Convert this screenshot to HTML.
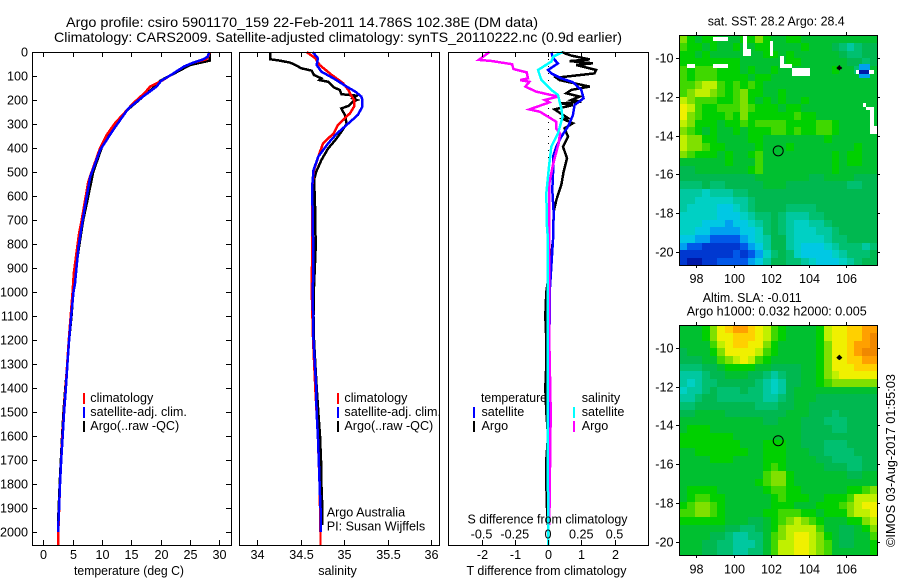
<!DOCTYPE html>
<html lang="en">
<head>
<meta charset="utf-8">
<title>Argo profile</title>
<style>
html,body{margin:0;padding:0;background:#fff;}
svg{display:block;}
text{font-family:"Liberation Sans",sans-serif;font-size:12.6px;fill:#000;}
</style>
</head>
<body>
<svg id="chart" width="900" height="580" viewBox="0 0 900 580" xmlns="http://www.w3.org/2000/svg">
<rect x="0" y="0" width="900" height="580" fill="#fff"/>
<text x="66" y="27" textLength="472" lengthAdjust="spacingAndGlyphs" style="font-size:14px">Argo profile: csiro 5901170_159 22-Feb-2011 14.786S 102.38E (DM data)</text>
<text x="54" y="42" textLength="568" lengthAdjust="spacingAndGlyphs" style="font-size:14px">Climatology: CARS2009. Satellite-adjusted climatology: synTS_20110222.nc (0.9d earlier)</text>

<g id="temp-panel"></g>
<g id="sal-panel"></g>
<g id="diff-panel"></g>
<g id="sst-map"></g>
<g id="sla-map"></g>

<text x="129" y="575" text-anchor="middle" textLength="110" lengthAdjust="spacingAndGlyphs">temperature (deg C)</text>
<text x="337.5" y="575" text-anchor="middle">salinity</text>
<text x="466.5" y="575" textLength="160" lengthAdjust="spacingAndGlyphs">T difference from climatology</text>
<text x="467.5" y="523.5" textLength="160" lengthAdjust="spacingAndGlyphs">S difference from climatology</text>

<g>
<text x="90.3" y="402">climatology</text>
<text x="90.3" y="416">satellite-adj. clim.</text>
<text x="90.3" y="430">Argo(..raw -QC)</text>
<rect x="83" y="393" width="2" height="11" fill="#ff0000"/>
<rect x="83" y="407" width="2" height="11" fill="#0000ff"/>
<rect x="83" y="421" width="2" height="11" fill="#000"/>
</g>
<g>
<text x="344.4" y="402">climatology</text>
<text x="344.4" y="416">satellite-adj. clim.</text>
<text x="344.4" y="430">Argo(..raw -QC)</text>
<rect x="337" y="393" width="2" height="11" fill="#ff0000"/>
<rect x="337" y="407" width="2" height="11" fill="#0000ff"/>
<rect x="337" y="421" width="2" height="11" fill="#000"/>
</g>
<text x="326.7" y="516.5">Argo Australia</text>
<text x="326.7" y="530.5">PI: Susan Wijffels</text>
<g>
<text x="481" y="402" textLength="66" lengthAdjust="spacingAndGlyphs">temperature</text>
<text x="481.5" y="416">satellite</text>
<text x="481.5" y="430">Argo</text>
<text x="581.7" y="402">salinity</text>
<text x="581.7" y="416">satellite</text>
<text x="581.7" y="430">Argo</text>
<rect x="473" y="407" width="2" height="11" fill="#0000ff"/>
<rect x="473" y="421" width="2" height="11" fill="#000"/>
<rect x="573" y="407" width="2" height="11" fill="#00ffff"/>
<rect x="573" y="421" width="2" height="11" fill="#ff00ff"/>
</g>

<text x="707.7" y="25.5" textLength="137" lengthAdjust="spacingAndGlyphs">sat. SST: 28.2 Argo: 28.4</text>
<text x="702.7" y="302" textLength="99" lengthAdjust="spacingAndGlyphs">Altim. SLA: -0.011</text>
<text x="686.7" y="315.5" textLength="180" lengthAdjust="spacingAndGlyphs">Argo h1000: 0.032 h2000: 0.005</text>
<text transform="translate(895 547) rotate(-90)" textLength="173" lengthAdjust="spacingAndGlyphs">©IMOS 03-Aug-2017 01:55:03</text>
</svg>
<script>
/* ---------- profile data ---------- */
const depthTicks = [0,100,200,300,400,500,600,700,800,900,1000,1100,1200,1300,1400,1500,1600,1700,1800,1900,2000];
const tempTicks = [0,5,10,15,20,25,30];
const salTicks = [34,34.5,35,35.5,36];
const tDiffTicks = [-2,-1,0,1,2];
const sDiffTicks = [-0.5,-0.25,0,0.25,0.5];
const sDiffTickLabels = ['-0.5','-0.25','0','0.25','0.5'];

const tempArgoDepth = [0,36,54,92,120,155,190,238,300,395,500,620,700,810,895,1006,1100,1200,1300,1400,1500,1600,1700,1800,1900,1970];
const tempArgo = [28.4,28.4,25,22.1,19.9,18.5,16.8,14.5,12.2,10,8.5,7.5,6.8,6.1,5.6,5.1,4.8,4.4,4.1,3.75,3.45,3.2,3.0,2.8,2.62,2.5];
const tempClimDepth = [0,15,30,45,60,92,120,144,170,214,297,346,401,540,700,755,922,1000,1200,1400,1600,1800,2000,2054];
const tempClim = [28.3,28.2,27.8,25.5,24,22,20.2,18.2,17.3,15.3,12.2,10.8,9.66,7.67,6.54,6.1,5.2,5.0,4.35,3.8,3.25,2.85,2.55,2.55];
const tempSatDepth = [0,20,30,45,60,92,120,144,186,235,325,408,520,686,811,964,1000,1100,1200,1300,1400,1500,1600,1700,1800,1900,2000];
const tempSat = [28.3,28,27.3,25.5,24,22,20.1,19.3,17,14.5,11.9,9.7,8,6.8,6,5.4,5.15,4.75,4.4,4.1,3.85,3.55,3.3,3.05,2.85,2.7,2.5];

const salArgoDepth = [0,30,36,44,54,68,78,96,110,117,124,147,158,176,182,193,200,207,225,235,249,262,300,332,367,401,450,499,533,617,811,978,1100,1200,1300,1400,1500,1600,1700,1800,1900,1970];
const salArgo = [34.15,34.15,34.26,34.38,34.44,34.51,34.63,34.655,34.74,34.72,34.82,34.88,34.95,34.97,35.146,35.1,35.15,35.1,35.05,34.97,34.99,35.01,35.03,34.97,34.9,34.82,34.74,34.68,34.655,34.665,34.675,34.655,34.65,34.655,34.67,34.686,34.705,34.724,34.736,34.74,34.75,34.75];
const salClimDepth = [0,26,54,96,130,158,179,200,228,255,276,304,339,380,436,492,561,800,1000,1200,1400,1600,1800,2000,2054];
const salClim = [34.57,34.67,34.72,34.86,34.99,35.05,35.08,35.115,35.115,35.07,35.01,34.93,34.88,34.76,34.705,34.655,34.635,34.635,34.63,34.645,34.67,34.7,34.72,34.73,34.73];
const salSatDepth = [0,26,54,82,110,144,165,186,200,228,262,304,339,380,436,492,561,894,1000,1200,1400,1500,1600,1700,1800,1900,2000];
const salSat = [34.64,34.7,34.686,34.74,34.88,35.03,35.13,35.2,35.21,35.21,35.16,35.03,34.92,34.82,34.705,34.65,34.635,34.65,34.64,34.65,34.68,34.685,34.7,34.71,34.72,34.73,34.73];

const dTArgoDepth = [0,15,31,38,47,54,75,89,107,117,144,158,172,186,200,207,214,221,239,276,279,297,318,353,394,443,499,554,617,665,783,900,1000,1100,1200,1300,1400,1500,1600,1700,1800,1900,1970];
const dTArgo = [0.4,0.7,1.25,0.65,1.35,0.85,1.45,1.4,0.25,0.35,1.25,0.7,0.55,0.95,0.7,1.0,0.4,0.75,0.2,0.6,0.45,0.75,0.5,0.6,0.45,0.57,0.47,0.4,0.25,0.17,0.15,0.05,-0.05,-0.08,-0.05,-0.05,-0.08,-0.05,0,-0.05,-0.05,-0.03,0];
const dTSatDepth = [0,26,47,75,89,110,126,158,193,221,263,311,353,394,436,506,575,672,783,1000,1500,2000];
const dTSat = [0.1,0.15,0.3,0,0.1,0.4,0.75,1.0,1.07,0.8,0.75,0.6,0.4,0.25,0.15,0.15,0.13,0.17,0.15,0.05,0.03,0];
const dSArgoDepth = [0,33,37,51,71,85,110,117,124,144,165,186,200,210,239,249,290,318,339,381,464,547,672,783,1200,1500,1970];
const dSArgo = [-0.44,-0.52,-0.43,-0.27,-0.26,-0.16,-0.15,-0.21,-0.14,-0.17,-0.09,0.075,-0.025,0.01,-0.14,-0.06,0.06,0.06,0.09,0.08,0.04,0.01,0.01,0.01,0.01,0.02,0.01];
const dSSatDepth = [0,19,40,75,117,158,179,235,270,339,394,478,589,728,783,1200,1600,2054];
const dSSat = [0.11,0.04,0.025,-0.075,-0.05,0.025,0.075,0.10,0.11,0.075,0.025,0.0075,-0.0125,-0.0075,0,-0.003,-0.003,0.003];

/* ---------- map data (colour-scale level per cell, north to south, west to east) ---------- */
const lonTicks = [98,100,102,104,106];
const latTicksSst = [-10,-12,-14,-16,-18,-20];
const latTicksSla = [-10,-12,-14,-16,-18,-20];
const profilePosition = [102.38,-14.786];
const nearbyFloat = [105.65,-10.5];
const sstGrid = [
[12,10,9,10,10,9,9,9,10,10,12,10,9,9,10,10,9,9,9,9,9,9,9,9,9,9],
[11,10,10,9,10,9,9,10,9,9,10,10,9,9,9,9,10,9,9,9,8,7,6,7,8,8],
[10,10,9,10,9,9,9,9,9,9,9,10,10,9,10,9,9,9,9,9,9,8,7,7,8,8],
[10,10,10,10,10,10,10,10,9,9,9,9,9,9,10,10,9,9,9,9,9,9,8,8,7,8],
[11,10,11,11,11,10,10,10,9,10,9,9,10,9,9,9,9,9,9,9,10,9,9,7,7,9],
[11,10,11,11,11,10,10,10,10,9,10,10,9,9,9,9,9,9,9,9,9,9,9,9,9,9],
[11,11,12,13,13,11,10,11,10,11,10,9,9,9,9,9,9,9,9,9,9,9,9,9,9,9],
[11,12,13,13,12,11,10,11,12,10,10,9,9,10,9,9,9,9,9,9,9,9,9,9,9,9],
[13,12,11,11,11,10,10,11,12,10,9,10,9,10,9,9,10,9,9,9,9,9,9,9,9,9],
[14,13,11,10,10,11,11,11,12,11,10,10,10,9,10,10,9,9,9,9,9,9,9,9,9,9],
[14,12,11,10,10,10,11,10,12,10,10,10,10,10,10,11,10,10,9,9,9,9,9,9,9,9],
[13,12,10,10,10,9,10,10,11,10,11,11,11,11,10,10,10,10,11,11,10,9,9,9,9,9],
[12,11,10,9,10,9,9,10,9,10,10,10,11,11,10,11,10,10,11,11,10,9,9,9,9,9],
[13,12,12,10,10,9,9,9,9,10,10,9,9,9,9,9,9,9,9,10,9,9,9,9,9,9],
[13,12,12,11,10,10,9,9,9,9,10,9,9,9,10,9,9,9,9,9,9,9,9,10,9,9],
[12,11,10,10,10,9,10,9,9,10,11,9,9,9,9,9,9,9,9,9,10,9,10,10,9,9],
[9,9,9,9,9,9,10,9,9,9,11,9,9,9,9,9,9,9,9,9,10,9,10,10,9,9],
[8,8,9,9,9,9,9,9,9,10,11,9,9,9,9,9,9,9,9,9,10,9,9,9,9,9],
[8,8,8,8,8,8,8,8,8,8,9,9,9,9,9,9,9,8,8,9,9,9,9,8,8,8],
[7,7,7,8,7,7,8,8,8,8,8,9,9,9,8,8,8,8,8,8,8,8,7,7,8,8],
[6,6,6,5,6,6,6,7,7,8,8,8,8,8,8,8,8,8,8,8,8,8,8,8,8,8],
[6,6,5,5,5,5,5,6,6,7,8,8,8,8,8,8,8,8,8,8,8,8,8,8,8,8],
[6,5,5,5,5,4,4,5,6,7,8,8,8,8,7,7,7,7,8,8,8,8,8,8,8,8],
[5,5,5,5,5,4,4,4,5,6,7,7,8,7,6,6,6,7,7,8,8,8,8,8,8,8],
[5,5,5,4,4,4,3,4,4,5,6,7,8,7,6,5,5,6,6,7,8,8,8,8,8,8],
[5,5,4,4,3,3,3,3,4,4,5,7,8,7,6,5,5,5,6,6,7,8,8,8,8,8],
[4,4,3,3,2,2,2,2,3,4,5,6,8,8,6,5,5,5,5,6,7,7,8,8,8,8],
[3,2,2,1,1,1,1,1,2,3,4,6,8,8,6,5,4,4,4,5,6,7,7,7,6,7],
[1,1,1,1,1,1,1,2,1,2,3,5,7,8,7,5,4,4,4,4,5,6,7,7,7,8],
[1,0,0,1,1,2,2,2,2,3,4,6,8,8,7,7,6,5,4,4,4,5,6,7,8,8]
];
const sstMissingWest = [98.9,100.5,100.5,101.95,102.5,102.5,103.1,97.5,98.9,105.6,106.55,107.25,106.9,107.1,107.3,107.3];
const sstMissingEast = [99.7,100.7,100.95,102.1,102.7,103.1,104.1,97.93,99.7,105.75,106.7,107.5,107.1,107.5,107.5,107.7];
const sstMissingNorth = [-8.88,-8.8,-9.5,-9.1,-9.9,-10.3,-10.5,-10.3,-10.3,-10.4,-10.6,-10.6,-12.3,-12.5,-12.7,-13.5];
const sstMissingSouth = [-9.09,-9.9,-9.9,-9.9,-10.5,-10.5,-10.9,-10.5,-10.5,-10.6,-10.8,-10.8,-12.5,-12.7,-13.5,-13.9];
const sstCoastalWest = [106.7,106.7];
const sstCoastalEast = [107.3,107.3];
const sstCoastalNorth = [-10.3,-10.6];
const sstCoastalSouth = [-11,-10.8];
const sstCoastalLevel = [3,0];
const slaGrid = [
[9,9,9,10,12,14,15,16,16,15,14,13,11,10,9,9,9,9,10,13,14,14,15,15,16,16],
[9,9,9,10,12,14,14,15,15,15,14,13,11,10,9,9,9,9,10,13,14,14,15,15,16,17],
[9,9,9,9,11,13,14,15,15,14,14,12,10,9,9,9,9,9,10,12,14,14,15,16,16,17],
[8,9,9,9,10,12,14,14,14,14,13,11,10,9,9,9,9,9,10,12,14,14,15,16,17,17],
[8,8,8,9,9,11,12,13,14,13,11,10,9,9,9,9,9,9,10,12,14,14,15,15,16,16],
[7,7,7,8,8,9,10,10,10,10,9,9,8,8,8,8,9,9,10,12,14,14,14,15,15,15],
[6,6,6,7,8,8,9,9,9,8,8,7,6,7,8,8,9,9,10,12,13,14,14,14,14,14],
[6,5,6,7,7,8,8,8,8,8,7,6,5,6,8,8,9,9,10,11,12,12,12,12,12,12],
[5,6,6,7,8,7,7,7,8,7,7,6,5,6,8,9,9,9,9,9,9,9,9,9,9,9],
[6,6,7,8,8,7,7,7,7,7,7,6,6,7,8,9,9,9,8,8,8,8,8,8,8,8],
[7,7,8,8,8,8,8,8,8,8,7,7,7,8,8,9,9,8,8,8,8,8,8,8,8,8],
[8,8,9,9,9,9,8,8,8,8,8,8,8,8,9,9,9,8,8,8,7,8,8,8,8,8],
[9,9,9,9,9,9,9,9,9,9,9,8,8,9,9,9,8,8,8,7,7,7,8,8,8,8],
[9,10,10,10,9,9,9,9,9,9,9,9,9,9,9,9,8,8,8,8,7,7,8,8,8,8],
[10,10,10,10,10,10,10,9,9,9,9,9,9,9,9,9,8,8,8,8,8,8,8,8,8,8],
[10,10,10,10,10,10,10,10,9,9,9,10,10,10,9,9,8,8,8,7,7,7,8,8,8,8],
[9,9,10,10,10,10,10,10,10,9,9,10,10,10,9,9,9,8,8,7,7,7,7,8,8,8],
[9,9,9,9,10,10,10,9,9,9,9,10,10,10,9,9,9,9,8,8,7,7,7,7,8,8],
[9,9,9,9,9,9,9,9,9,9,9,10,11,10,9,9,9,9,9,8,8,8,7,7,8,8],
[9,9,9,9,9,9,9,9,9,9,9,11,12,12,10,9,9,9,9,9,9,9,8,8,9,9],
[9,9,9,9,9,9,9,9,9,9,10,11,12,12,10,9,9,9,9,9,9,9,9,9,9,9],
[9,10,10,10,10,9,9,9,9,9,9,10,11,11,10,10,9,9,9,9,9,9,10,10,11,12],
[9,10,11,11,10,10,9,9,9,9,9,9,10,11,10,10,10,9,9,10,10,10,11,13,13,13],
[10,11,12,12,11,10,9,9,9,9,9,9,10,10,10,9,9,9,10,10,10,11,12,13,14,14],
[11,11,12,12,11,10,9,9,9,9,9,10,10,11,11,11,10,10,9,10,10,10,12,13,13,14],
[10,10,10,10,10,10,9,9,9,8,8,9,10,11,12,13,12,11,10,9,9,9,10,10,12,13],
[9,9,9,9,9,9,8,8,7,7,8,9,10,12,13,13,13,13,11,9,9,8,8,9,10,12],
[9,9,9,9,8,8,7,6,6,7,7,9,11,12,13,14,14,13,12,10,9,8,8,9,9,11],
[9,9,9,8,8,7,7,6,6,6,7,9,11,13,13,14,14,13,12,11,9,8,8,9,9,10],
[9,9,9,8,8,7,7,6,6,7,7,9,11,13,13,14,14,13,12,11,9,9,9,9,9,10]
];

/* ---------- colour scale (level to colour) ---------- */
const colourScale = ['#0018a8','#0038d0','#0058e8','#00a0f0','#00c8e4','#00d0c4','#00c8a0','#00c070','#00b850','#00c030','#00d000','#40d800','#80e000','#c0f000','#f0f000','#ffd000','#ffa000','#f08800'];
function colourOf(level){ return colourScale[level]; }

/* ---------- axis functions ---------- */
const depthY = d => 52 + 0.24 * d;
const tempX = t => 43.3 + 5.867 * t;
const salX = s => 257 + 87 * (s - 34);
const dTX = v => 548 + 33.25 * v;
const dSX = v => 548 + 133 * v;
const lonX = lon => 696.3 + 18.7 * (lon - 98);
const latYSst = lat => 58.3 + 19.33 * (-10 - lat);
const latYSla = lat => 348 + 19.37 * (-10 - lat);

const NS = 'http://www.w3.org/2000/svg';
function mk(tag, attrs, parent){
  const e = document.createElementNS(NS, tag);
  for (const k in attrs) e.setAttribute(k, attrs[k]);
  parent.appendChild(e);
  return e;
}

function frame(parent, x0, y0, x1, y1){
  const el = mk('rect', {x:x0+0.5, y:y0+0.5, width:x1-x0, height:y1-y0, fill:'none', stroke:'#000', 'stroke-width':1, 'shape-rendering':'crispEdges'}, parent);
  
  
}
function tickMark(parent, x1, y1, x2, y2){
  const el = mk('line', {x1:x1, y1:y1, x2:x2, y2:y2, stroke:'#000', 'stroke-width':1, 'shape-rendering':'crispEdges'}, parent);
  
  
}
function tickLabel(parent, x, y, str, anchor){
  const el = mk('text', {x:x, y:y, 'text-anchor':anchor}, parent);
  el.textContent = str;
  
  
}
function profile(parent, xFn, depths, values, colour, name){
  const pts = depths.map((d, i) => xFn(values[i]).toFixed(1) + ',' + depthY(d).toFixed(1)).join(' ');
  const el = mk('polyline', {points:pts, fill:'none', stroke:colour, 'stroke-width':2.5, 'stroke-linejoin':'miter', 'shape-rendering':'crispEdges'}, parent);
  
  
}
const snap = v => Math.round(v) + 0.5;

/* ---------- temperature panel ---------- */
const tp = document.getElementById('temp-panel');
profile(tp, tempX, tempArgoDepth, tempArgo, '#000', 'argo-temperature-line');
profile(tp, tempX, tempClimDepth, tempClim, '#ff0000', 'climatology-temperature-line');
profile(tp, tempX, tempSatDepth, tempSat, '#0000ff', 'satellite-temperature-line');
frame(tp, 32, 52, 231, 545);
depthTicks.forEach(d => {
  const y = snap(depthY(d));
  tickMark(tp, 32, y, 37, y);
  tickMark(tp, 226, y, 231, y);
  tickLabel(tp, 28, y + 4, String(d), 'end');
});
tempTicks.forEach(t => {
  const x = snap(tempX(t));
  tickMark(tp, x, 52, x, 57);
  tickMark(tp, x, 540, x, 545);
  tickLabel(tp, x, 559, String(t), 'middle');
});

/* ---------- salinity panel ---------- */
const sp = document.getElementById('sal-panel');
profile(sp, salX, salArgoDepth, salArgo, '#000', 'argo-salinity-line');
profile(sp, salX, salClimDepth, salClim, '#ff0000', 'climatology-salinity-line');
profile(sp, salX, salSatDepth, salSat, '#0000ff', 'satellite-salinity-line');
frame(sp, 239, 52, 439, 545);
salTicks.forEach(s => {
  const x = snap(salX(s));
  tickMark(sp, x, 52, x, 57);
  tickMark(sp, x, 540, x, 545);
  tickLabel(sp, x, 559, String(s), 'middle');
});

/* ---------- difference panel ---------- */
const dp = document.getElementById('diff-panel');
const zeroLine = mk('line', {x1:548.5, y1:52, x2:548.5, y2:545, stroke:'#000', 'stroke-width':1, 'stroke-dasharray':'1 6', 'shape-rendering':'crispEdges'}, dp);


profile(dp, dTX, dTArgoDepth, dTArgo, '#000', 'argo-t-difference-line');
profile(dp, dTX, dTSatDepth, dTSat, '#0000ff', 'satellite-t-difference-line');
profile(dp, dSX, dSArgoDepth, dSArgo, '#ff00ff', 'argo-s-difference-line');
profile(dp, dSX, dSSatDepth, dSSat, '#00ffff', 'satellite-s-difference-line');
frame(dp, 448, 52, 648, 545);
tDiffTicks.forEach(t => {
  const x = snap(dTX(t));
  tickMark(dp, x, 52, x, 57);
  tickMark(dp, x, 540, x, 545);
  tickLabel(dp, x, 559, String(t), 'middle');
});
sDiffTicks.forEach((s, i) => {
  tickLabel(dp, dSX(s), 538.5, sDiffTickLabels[i], 'middle');
});

/* ---------- maps ---------- */
const mapWest = 97.09, mapEast = 107.68;
function drawMap(parent, grid, latY, latTop, latBottom, cellName){
  const rows = grid.length, cols = grid[0].length;
  const dLon = (mapEast - mapWest) / cols, dLat = (latTop - latBottom) / rows;
  grid.forEach((row, r) => row.forEach((level, c) => {
    const x0 = Math.round(lonX(mapWest + c * dLon)), x1 = Math.round(lonX(mapWest + (c + 1) * dLon));
    const y0 = Math.round(latY(latTop - r * dLat)), y1 = Math.round(latY(latTop - (r + 1) * dLat));
    const el = mk('rect', {x:x0, y:y0, width:x1 - x0, height:y1 - y0, fill:colourOf(level), 'shape-rendering':'crispEdges'}, parent);
    
    
  }));
}
function box(parent, west, east, north, south, latY, fill, name){
  const x0 = Math.round(lonX(west)), x1 = Math.round(lonX(east));
  const y0 = Math.round(latY(north)), y1 = Math.round(latY(south));
  const el = mk('rect', {x:x0, y:y0, width:x1 - x0, height:y1 - y0, fill:fill, 'shape-rendering':'crispEdges'}, parent);
  
  
}
function mapFurniture(parent, latY, latTicks, top, bottom, labelY){
  frame(parent, 679, top, 877, bottom);
  lonTicks.forEach(lon => {
    const x = snap(lonX(lon));
    tickMark(parent, x, top - 3, x, top);
    tickMark(parent, x, bottom, x, bottom + 3);
    tickLabel(parent, x, labelY, String(lon), 'middle');
  });
  latTicks.forEach(lat => {
    const y = snap(latY(lat));
    tickMark(parent, 676, y, 679, y);
    tickMark(parent, 877, y, 880, y);
    tickLabel(parent, 673.5, y + 4, String(lat), 'end');
  });
  const circle = mk('circle', {cx:lonX(profilePosition[0]), cy:latY(profilePosition[1]), r:5, fill:'none', stroke:'#000', 'stroke-width':1}, parent);
  
  
  const fx = lonX(nearbyFloat[0]), fy = latY(nearbyFloat[1]);
  const star = mk('path', {d:'M'+(fx-3)+' '+fy+'L'+(fx-1.5)+' '+(fy-1.5)+'L'+fx+' '+(fy-3)+'L'+(fx+1.5)+' '+(fy-1.5)+'L'+(fx+3)+' '+fy+'L'+(fx+1.5)+' '+(fy+1.5)+'L'+fx+' '+(fy+2.5)+'L'+(fx-1.5)+' '+(fy+1.5)+'Z', fill:'#000'}, parent);
  
  
}

const sm = document.getElementById('sst-map');
drawMap(sm, sstGrid, latYSst, -8.81, -20.73, 'sst-cell');
sstCoastalLevel.forEach((lv, i) => {
  box(sm, sstCoastalWest[i], sstCoastalEast[i], sstCoastalNorth[i], sstCoastalSouth[i], latYSst, colourOf(lv), 'sst-coastal-patch');
});
sstMissingWest.forEach((w, i) => {
  box(sm, w, sstMissingEast[i], sstMissingNorth[i], sstMissingSouth[i], latYSst, '#fff', 'sst-missing-data');
});
mapFurniture(sm, latYSst, latTicksSst, 35, 265, 283);

const lm = document.getElementById('sla-map');
drawMap(lm, slaGrid, latYSla, -8.83, -20.70, 'sla-cell');
mapFurniture(lm, latYSla, latTicksSla, 325, 555, 573.5);
</script>
</body>
</html>
